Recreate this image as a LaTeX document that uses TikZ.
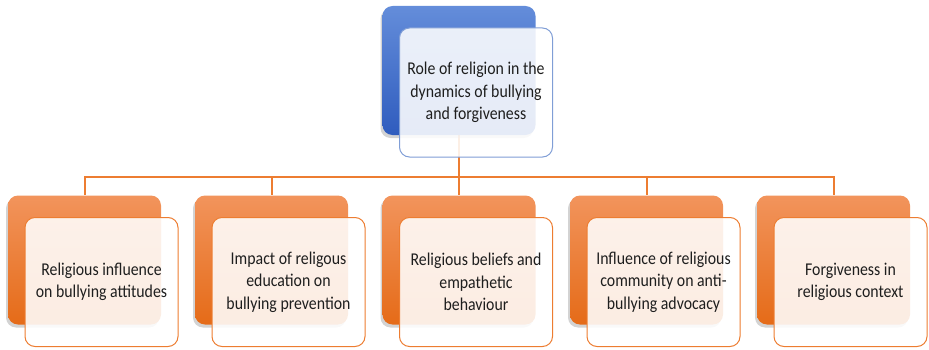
\documentclass[tikz,border=0pt]{standalone}
\usepackage{fontspec}
\setmainfont{Carlito}[FakeStretch=0.88]
\definecolor{rolebluetop}{RGB}{100,141,218}
\definecolor{rolebluebot}{RGB}{47,92,190}
\definecolor{roleborder}{RGB}{128,158,214}
\definecolor{branchtop}{RGB}{242,148,92}
\definecolor{branchbot}{RGB}{229,107,24}
\definecolor{branchline}{RGB}{237,125,49}
\definecolor{inktext}{RGB}{30,30,30}
\usetikzlibrary{positioning,shadows,backgrounds}

\tikzset{
  backcard/.style={rounded corners=10pt,minimum width=153pt,minimum height=129pt,
    drop shadow={shadow xshift=-2pt,shadow yshift=-3pt,opacity=0.35}},
  frontcard/.style={rounded corners=10pt,minimum width=153pt,minimum height=129pt,
    fill=white,fill opacity=0.88,text opacity=1,line width=1pt,text=inktext,
    align=center,font=\fontsize{18}{22.3}\selectfont},
  link/.style={draw=branchline,line width=2pt}
}

\begin{document}
\begin{tikzpicture}[x=1pt,y=1pt]
  \useasboundingbox (0,0) rectangle (929,349);

  % root card
  \node[backcard,top color=rolebluetop,bottom color=rolebluebot] (role) at (459,278.5) {};
  \node[frontcard,draw=roleborder] (roletxt) at ([shift={(17,-22)}]role.center)
    {Role of religion in the\\dynamics of bullying\\and forgiveness};

  % branch cards
  \foreach \i/\x/\txt in {
      1/84.5/{Religious influence\\on bullying attitudes},
      2/271.5/{Impact of religous\\education on\\bullying prevention},
      3/459/{Religious beliefs and\\empathetic\\behaviour},
      4/646.5/{Influence of religious\\community on anti-\\bullying advocacy},
      5/833.5/{Forgiveness in\\religious context}} {
    \node[backcard,top color=branchtop,bottom color=branchbot] (c\i) at (\x,89) {};
    \node[frontcard,draw=branchline] (t\i) at ([shift={(17,-22)}]c\i.center) {\txt};
    \begin{scope}[on background layer]
      \draw[link] (role.south) -- ++(0,-41.5) -| (c\i.north);
    \end{scope}
  }
\end{tikzpicture}
\end{document}
